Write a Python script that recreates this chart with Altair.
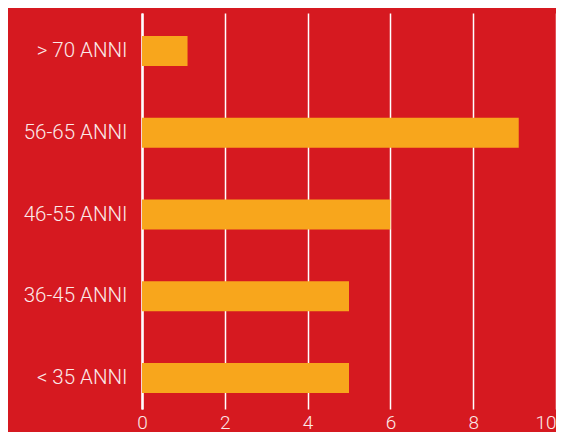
import altair as alt
import pandas as pd

categories = ["> 70 ANNI", "56-65 ANNI", "46-55 ANNI", "36-45 ANNI", "< 35 ANNI"]
values = [1.1, 9.1, 6.0, 5.0, 5.0]
ticks = [0, 2, 4, 6, 8, 10]

df = pd.DataFrame({"cat": categories, "val": values})

RED = "#D61920"
ORANGE = "#F8A61C"

chart = alt.Chart(df).mark_bar(color=ORANGE).encode(
    y=alt.Y("cat:N", sort=categories, title=None,
            scale=alt.Scale(paddingInner=0.633, paddingOuter=0.2385, align=0.59),
            axis=alt.Axis(domain=True, domainColor="white", domainWidth=2.5,
                          ticks=False, labelColor="#FBE9E9", labelFontSize=20.5,
                          labelFont="Roboto", labelFontWeight=300, labelPadding=15,
                          grid=False)),
    x=alt.X("val:Q", title=None,
            scale=alt.Scale(domain=[0, 10]),
            axis=alt.Axis(values=ticks, domain=False, ticks=False,
                          grid=True, gridColor="white", gridWidth=1.5, gridOpacity=1,
                          labelColor="#FBE9E9", labelFontSize=19, labelFont="Roboto",
                          labelFontWeight=300, labelPadding=4, labelFlush=False,
                          labelAlign={"expr": "datum.value == 10 ? 'right' : 'center'"})),
).properties(
    width=414, height=396,
    background=RED,
    autosize=alt.AutoSizeParams(type="none"),
    padding={"left": 134, "top": 5, "right": 0, "bottom": 23},
).configure_view(stroke=None)

chart.save("out.html", embed_options={"renderer": "svg", "actions": False})
